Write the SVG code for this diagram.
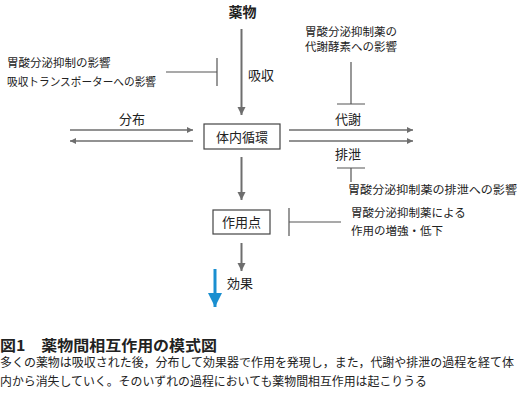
<svg xmlns="http://www.w3.org/2000/svg" width="521" height="396" viewBox="0 0 521 396">
<style>
text{font-family:"Noto Sans CJK JP","Noto Sans",sans-serif;fill:#222}
.t11{font-size:11.5px}
.t13{font-size:13px}
.ln{stroke:#6e6e6e;fill:none}
.inh{stroke:#555;stroke-width:1.2;fill:none}
.box{fill:#fff;stroke:#444;stroke-width:1.2}
</style>
<defs>
<marker id="ah" viewBox="0 0 10 10" refX="10" refY="5" markerWidth="7" markerHeight="6" markerUnits="userSpaceOnUse" orient="auto"><path d="M0,0L10,5L0,10z" fill="#6e6e6e"/></marker>
<marker id="av" viewBox="0 0 10 10" refX="10" refY="5" markerWidth="8" markerHeight="9" markerUnits="userSpaceOnUse" orient="auto"><path d="M0,0L10,5L0,10z" fill="#6e6e6e"/></marker>
<marker id="ab" viewBox="0 0 10 10" refX="10" refY="5" markerWidth="14" markerHeight="14" markerUnits="userSpaceOnUse" orient="auto"><path d="M0,0L10,5L0,10z" fill="#1a8fd0"/></marker>
</defs>
<g id="connectors">
<line class="ln" x1="241.5" y1="29" x2="241.5" y2="115" stroke-width="2" marker-end="url(#av)"/>
<line class="ln" x1="241.5" y1="157" x2="241.5" y2="200" stroke-width="2" marker-end="url(#av)"/>
<line class="ln" x1="241.5" y1="243" x2="241.5" y2="271" stroke-width="2" marker-end="url(#av)"/>
<line class="ln" x1="70" y1="130" x2="193" y2="130" stroke-width="1.5" marker-end="url(#ah)"/>
<line class="ln" x1="193" y1="141" x2="70" y2="141" stroke-width="1.5" marker-end="url(#ah)"/>
<line class="ln" x1="289" y1="130" x2="413" y2="130" stroke-width="1.5" marker-end="url(#ah)"/>
<line class="ln" x1="289" y1="141" x2="413" y2="141" stroke-width="1.5" marker-end="url(#ah)"/>
<line x1="215" y1="269" x2="215" y2="307" stroke="#1a8fd0" stroke-width="3" marker-end="url(#ab)"/>
<path class="inh" d="M166,72H217M217,58V86"/>
<path class="inh" d="M351,62V104M337,104H365"/>
<path class="inh" d="M337,168H365M351,168V182"/>
<path class="inh" d="M289,208V236M289,222H341"/>
</g>
<g id="drug"><text x="242.5" y="17" text-anchor="middle" font-size="14" font-weight="bold">薬物</text></g>
<g id="absorption"><text class="t13" x="248" y="80">吸収</text></g>
<g id="absorption-note">
<text class="t11" x="7" y="67">胃酸分泌抑制の影響</text>
<text class="t11" x="7" y="86" textLength="149" lengthAdjust="spacingAndGlyphs">吸収トランスポーターへの影響</text>
</g>
<g id="distribution"><text class="t13" x="132" y="124" text-anchor="middle">分布</text></g>
<g id="circulation"><rect class="box" x="204" y="124" width="76" height="25"/><text class="t13" x="242" y="141.5" text-anchor="middle">体内循環</text></g>
<g id="metabolism"><text class="t13" x="348" y="124" text-anchor="middle">代謝</text></g>
<g id="metabolism-note">
<text class="t11" x="351" y="36" text-anchor="middle">胃酸分泌抑制薬の</text>
<text class="t11" x="351" y="51" text-anchor="middle">代謝酵素への影響</text>
</g>
<g id="excretion"><text class="t13" x="348" y="159" text-anchor="middle">排泄</text></g>
<g id="excretion-note"><text class="t11" x="348" y="194" textLength="169" lengthAdjust="spacingAndGlyphs">胃酸分泌抑制薬の排泄への影響</text></g>
<g id="site"><rect class="box" x="213" y="210" width="57" height="24"/><text class="t13" x="241.5" y="226.5" text-anchor="middle">作用点</text></g>
<g id="site-note">
<text class="t11" x="351" y="217">胃酸分泌抑制薬による</text>
<text class="t11" x="351" y="235">作用の増強・低下</text>
</g>
<g id="effect"><text class="t13" x="227" y="288">効果</text></g>
<g id="caption">
<text x="0" y="350.5" font-size="14.5" font-weight="bold" textLength="217" lengthAdjust="spacingAndGlyphs">図1　薬物間相互作用の模式図</text>
<text x="0" y="366.5" font-size="12" textLength="514" lengthAdjust="spacingAndGlyphs">多くの薬物は吸収された後，分布して効果器で作用を発現し，また，代謝や排泄の過程を経て体</text>
<text x="0" y="386" font-size="12" textLength="427" lengthAdjust="spacingAndGlyphs">内から消失していく。そのいずれの過程においても薬物間相互作用は起こりうる</text>
</g>
</svg>
